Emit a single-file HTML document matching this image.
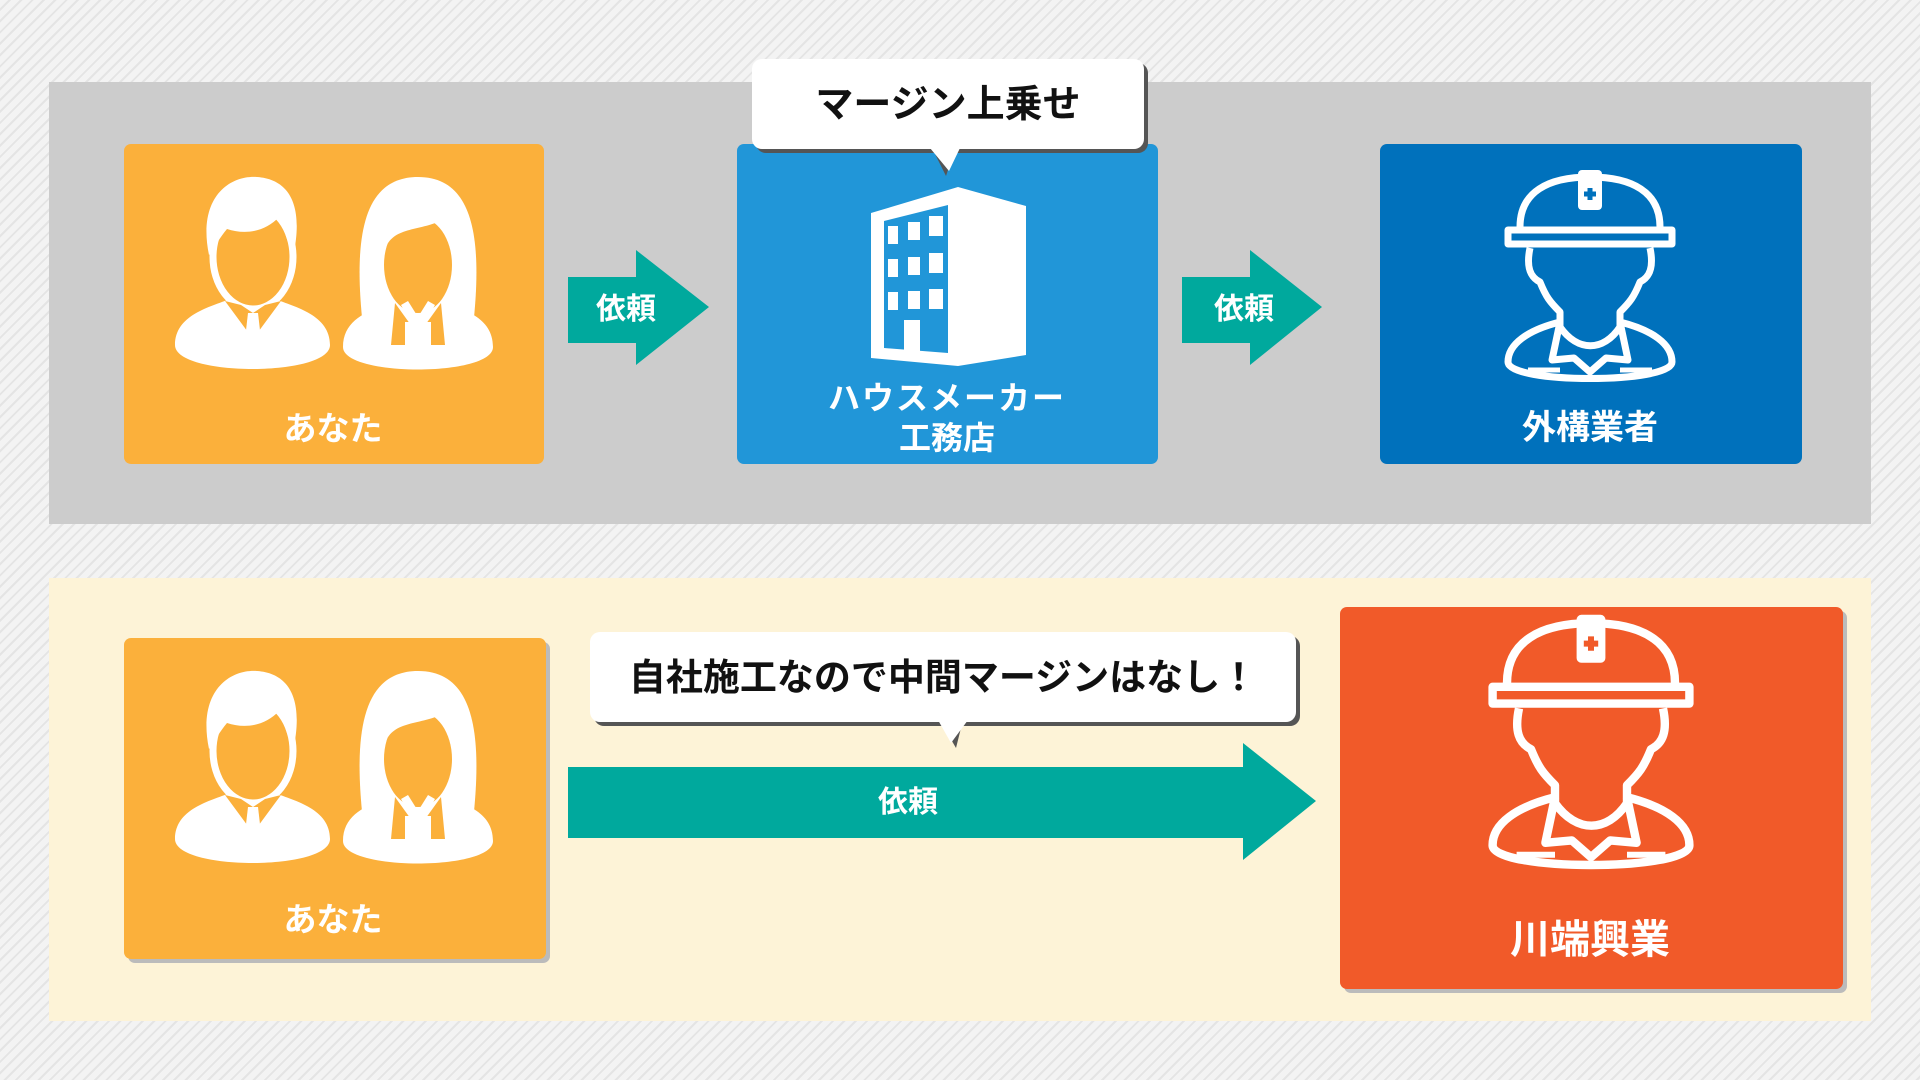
<!DOCTYPE html>
<html><head><meta charset="utf-8"><style>
html,body{margin:0;padding:0;width:1920px;height:1080px;overflow:hidden}
body{background:repeating-linear-gradient(135deg,#f3f3f3 0 6px,#e4e4e4 6px 8px);font-family:"Liberation Sans","Noto Sans CJK JP",sans-serif}
svg{position:absolute;left:0;top:0}
text{font-family:"Liberation Sans","Noto Sans CJK JP",sans-serif;font-weight:bold}
</style></head><body>
<svg width="1920" height="1080" viewBox="0 0 1920 1080">
<defs>
<g id="man">
 <path d="M0,168 C0,138 35,130 55,122 L100,122 C120,130 155,138 155,168 C155,200 0,200 0,168 Z" fill="#fff"/>
 <rect x="58" y="100" width="40" height="30" fill="currentColor"/>
 <ellipse cx="78" cy="80" rx="40" ry="52" fill="currentColor" stroke="#fff" stroke-width="7"/>
 <path d="M34,78 C22,20 55,-2 82,0 C112,2 130,25 118,80 C112,62 108,50 104,40 C90,55 70,58 52,52 C45,60 40,70 34,78 Z" fill="#fff"/>
 <polygon points="50,124 78,162 106,124 90,128 78,136 66,128" fill="currentColor"/>
 <polygon points="73,136 83,136 86,162 78,170 70,162" fill="#fff"/>
</g>
<g id="woman">
 <path d="M20,150 C10,60 20,0 75,0 C130,0 140,60 130,150 Z" fill="#fff"/>
 <path d="M0,170 C0,140 30,132 55,124 L95,124 C120,132 150,140 150,170 C150,200 0,200 0,170 Z" fill="#fff"/>
 <ellipse cx="75" cy="88" rx="34" ry="48" fill="currentColor"/>
 <path d="M40,80 C45,50 70,55 95,45 C100,55 108,65 112,80 C112,40 100,20 75,20 C50,20 38,45 40,80 Z" fill="#fff"/>
 <polygon points="52,126 75,158 98,126 102,168 48,168" fill="currentColor"/>
 <rect x="62" y="145" width="26" height="40" fill="#fff"/>
 <polygon points="58,128 75,158 92,128 85,124 75,140 65,124" fill="#fff"/>
</g>
<g id="worker" fill="none" stroke="#fff" stroke-width="7" stroke-linejoin="round">
 <path d="M12,55 C12,20 40,5 82,5 C124,5 152,20 152,55"/>
 <rect x="70" y="-2" width="24" height="40" rx="4" fill="#fff" stroke="none"/>
 <path d="M76,22 h12 M82,16 v12" stroke="currentColor" stroke-width="5"/>
 <rect x="0" y="58" width="164" height="14"/>
 <path d="M22,76 C18,95 22,105 32,110 C38,125 42,130 52,140 L52,155 C70,180 95,180 112,155 L112,140 C122,130 126,125 132,110 C142,105 146,95 142,76"/>
 <path d="M52,150 C20,158 0,172 0,190 C0,212 164,212 164,190 C164,172 144,158 112,150"/>
 <path d="M52,150 L44,188 L66,186 L82,200 L98,186 L120,188 L112,150"/>
 <path d="M20,198 h32 M112,198 h32" stroke-width="5"/>
</g>
</defs>

<rect x="49" y="82" width="1822" height="442" fill="#cccccc"/>
<rect x="49" y="578" width="1822" height="443" fill="#fdf3d7"/>

<rect x="124" y="144" width="420" height="320" rx="7" fill="#fbb03b"/>
<use href="#man" x="175" y="177" color="#fbb03b"/>
<use href="#woman" x="343" y="177" color="#fbb03b"/>
<text x="333" y="440" font-size="33" fill="#fff" text-anchor="middle">あなた</text>

<rect x="737" y="144" width="421" height="320" rx="7" fill="#2196d8"/>
<polygon points="871,213 958,187 1026,206 1026,355 958,366 871,358" fill="#fff"/>
<polygon points="884,221 948,205 948,353 884,348" fill="#2196d8"/>
<g fill="#fff">
<rect x="888" y="226" width="10" height="18"/><rect x="908" y="222" width="12" height="18"/><rect x="929" y="216" width="14" height="20"/>
<rect x="888" y="259" width="10" height="18"/><rect x="908" y="257" width="12" height="18"/><rect x="929" y="253" width="14" height="20"/>
<rect x="888" y="292" width="10" height="18"/><rect x="908" y="291" width="12" height="18"/><rect x="929" y="289" width="14" height="20"/>
<rect x="904" y="320" width="16" height="32"/>
</g>
<text x="947" y="409" font-size="32" fill="#fff" text-anchor="middle" letter-spacing="2">ハウスメーカー</text>
<text x="947" y="449" font-size="32" fill="#fff" text-anchor="middle">工務店</text>

<rect x="1380" y="144" width="422" height="320" rx="7" fill="#0071bc"/>
<use href="#worker" x="1508" y="172" color="#0071bc"/>
<text x="1590" y="439" font-size="34" fill="#fff" text-anchor="middle">外構業者</text>

<polygon points="568,277 636,277 636,250 709,307 636,365 636,343 568,343" fill="#00a99d"/>
<text x="626" y="319" font-size="30" fill="#fff" text-anchor="middle">依頼</text>
<polygon points="1182,277 1250,277 1250,250 1322,307 1250,365 1250,343 1182,343" fill="#00a99d"/>
<text x="1244" y="319" font-size="30" fill="#fff" text-anchor="middle">依頼</text>

<rect x="756" y="63" width="392" height="90" rx="10" fill="#555"/>
<polygon points="934,152 954,152 946,176" fill="#555"/>
<rect x="752" y="59" width="392" height="90" rx="10" fill="#fff"/>
<polygon points="930,148 960,148 949,171" fill="#fff"/>
<text x="948" y="117" font-size="38" fill="#111" text-anchor="middle">マージン上乗せ</text>

<rect x="128" y="642" width="422" height="321" rx="7" fill="#bbb"/>
<rect x="124" y="638" width="422" height="321" rx="7" fill="#fbb03b"/>
<use href="#man" x="175" y="671" color="#fbb03b"/>
<use href="#woman" x="343" y="671" color="#fbb03b"/>
<text x="333" y="931" font-size="33" fill="#fff" text-anchor="middle">あなた</text>

<rect x="1344" y="611" width="503" height="382" rx="7" fill="#bbb"/>
<rect x="1340" y="607" width="503" height="382" rx="7" fill="#f15a29"/>
<use href="#worker" x="1509" y="641" color="#f15a29" transform="translate(1591,760) scale(1.2) translate(-1591,-760)"/>
<text x="1590" y="953" font-size="40" fill="#fff" text-anchor="middle">川端興業</text>

<polygon points="568,767 1243,767 1243,743 1316,801 1243,860 1243,838 568,838" fill="#00a99d"/>
<text x="908" y="812" font-size="30" fill="#fff" text-anchor="middle">依頼</text>

<rect x="594" y="636" width="706" height="90" rx="10" fill="#555"/>
<polygon points="942,724 962,724 956,748" fill="#555"/>
<rect x="590" y="632" width="706" height="90" rx="10" fill="#fff"/>
<polygon points="938,720 968,720 951,743" fill="#fff"/>
<text x="943" y="690" font-size="37" fill="#111" text-anchor="middle">自社施工なので中間マージンはなし！</text>
</svg>
</body></html>
